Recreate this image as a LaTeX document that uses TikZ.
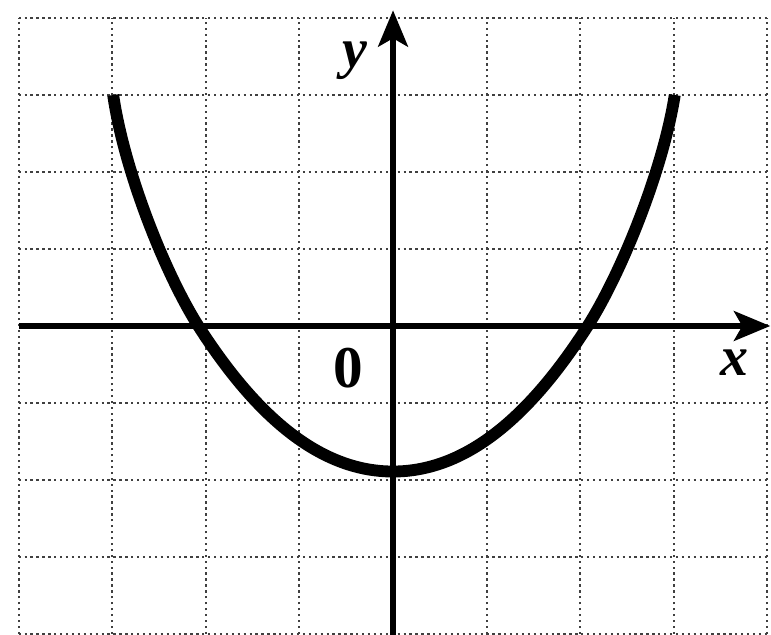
\documentclass[tikz,border=0pt]{standalone}
\usepackage{fontspec}
\setmainfont{Liberation Serif}
\usetikzlibrary{arrows.meta}

\begin{document}
\begin{tikzpicture}[
    x=1cm, y=0.8226cm,
    gridline/.style={line width=0.6pt, black!75, dash pattern=on 0.7pt off 1.1pt},
    axis/.style={line width=1.9pt, -{Stealth[length=11pt, width=9pt, inset=2.5pt]}},
    curve/.style={line width=3.6pt},
    lbl/.style={inner sep=0pt, font=\fontsize{17}{20}\selectfont\bfseries\itshape},
]
  \useasboundingbox (-4.199,-4.013) rectangle (4.038,4.234);
  \draw[gridline, step={(1,1)}] (-4,-4) grid (4,4);

  \coordinate (xs) at (-4,0);
  \coordinate (xe) at (4.03,0);
  \coordinate (ys) at (0,-4.01);
  \coordinate (ye) at (0,4.1);
  \draw[axis] (xs) -- (xe);
  \draw[axis] (ys) -- (ye);

  \node[lbl] (lbly) at (-0.41,3.45) {y};
  \node[lbl] (lblx) at (3.65,-0.47) {x};
  \node[inner sep=0pt, font=\fontsize{18}{20}\selectfont\bfseries] (lblo) at (-0.48,-0.545) {0};

  % the curve
  \draw[curve] (-2.99,3) .. controls (-2.87,2) and (-2.43,0.67) .. (-2.08,0)
    .. controls (-1.48,-1.14) and (-0.8,-1.89) .. (0,-1.89)
    .. controls (0.8,-1.89) and (1.48,-1.14) .. (2.08,0)
    .. controls (2.43,0.67) and (2.88,2) .. (3.01,3);
\end{tikzpicture}
\end{document}
